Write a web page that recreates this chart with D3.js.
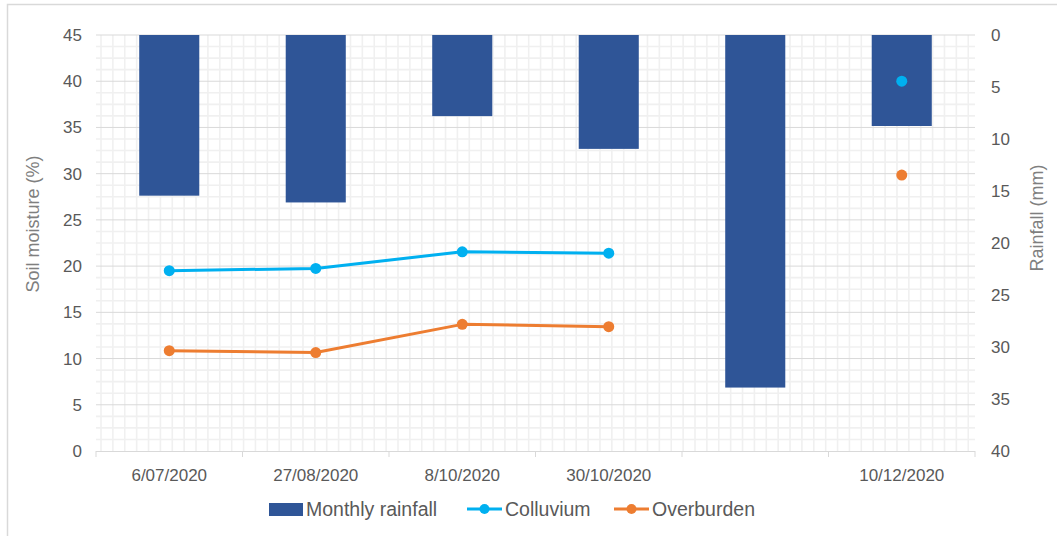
<!DOCTYPE html>
<html>
<head>
<meta charset="utf-8">
<script src="https://cdn.jsdelivr.net/npm/d3@7"></script>
<style>
  body { margin: 0; background: #fff; }
  text { font-family: "Liberation Sans", Arial, sans-serif; fill: #595959; }
</style>
</head>
<body>
<div id="chart"></div>
<script>
// data
const dates = ["6/07/2020", "27/08/2020", "8/10/2020", "30/10/2020", "", "10/12/2020"];
const rainfall = [15.45, 16.1, 7.8, 10.95, 33.9, 8.75];
const colluvium = [19.5, 19.75, 21.55, 21.4, null, 40];
const overburden = [10.85, 10.65, 13.7, 13.45, null, 29.85];
const moistureTicks = [0, 5, 10, 15, 20, 25, 30, 35, 40, 45];
const rainTicks = [0, 5, 10, 15, 20, 25, 30, 35, 40];

// dimensions
const width = 1057, height = 536;
const plotLeft = 96, plotRight = 975, plotTop = 35, plotBottom = 451;

const svg = d3.select("#chart").append("svg")
    .attr("width", width)
    .attr("height", height);

// chart frame
svg.append("rect").attr("x", 7.5).attr("y", 4.5).attr("width", 1060).attr("height", 560)
    .attr("fill", "none").attr("stroke", "#d9d9d9").attr("stroke-width", 1.5);

const x = d3.scaleBand().domain(d3.range(dates.length)).range([plotLeft, plotRight]).paddingInner(0.59).paddingOuter(0.295);
const xOuter = d3.scaleBand().domain(d3.range(dates.length)).range([plotLeft, plotRight]);
const yLeft = d3.scaleLinear().domain([0, 45]).range([plotBottom, plotTop]);
const yRight = d3.scaleLinear().domain([0, 40]).range([plotTop, plotBottom]);

// minor grid (4 steps per major)
const grid = svg.append("g");
grid.selectAll("line.hmin")
    .data(d3.range(0, 45, 1.25).filter(v => v % 5 !== 0))
    .join("line")
    .attr("x1", plotLeft).attr("x2", plotRight)
    .attr("y1", d => yLeft(d)).attr("y2", d => yLeft(d))
    .attr("stroke", "#f0f0f0").attr("stroke-width", 1.6);

const vStep = 11.88;
grid.selectAll("line.vmin")
    .data(d3.range(plotLeft + 5, plotRight, vStep))
    .join("line")
    .attr("x1", d => d).attr("x2", d => d)
    .attr("y1", plotTop).attr("y2", plotBottom)
    .attr("stroke", "#f0f0f0").attr("stroke-width", 1.6);

grid.selectAll("line.hmaj")
    .data(moistureTicks.filter(v => v > 0))
    .join("line")
    .attr("x1", plotLeft).attr("x2", plotRight)
    .attr("y1", d => yLeft(d)).attr("y2", d => yLeft(d))
    .attr("stroke", "#d9d9d9").attr("stroke-width", 1);

// category axis
svg.append("line").attr("x1", plotLeft).attr("x2", plotRight).attr("y1", plotBottom + 0.5).attr("y2", plotBottom + 0.5)
    .attr("stroke", "#d9d9d9").attr("stroke-width", 1);
svg.selectAll("line.tick")
    .data(d3.range(dates.length + 1))
    .join("line")
    .attr("x1", i => plotLeft + i * xOuter.bandwidth()).attr("x2", i => plotLeft + i * xOuter.bandwidth())
    .attr("y1", plotBottom).attr("y2", plotBottom + 6)
    .attr("stroke", "#d9d9d9");

svg.selectAll("text.cat")
    .data(dates)
    .join("text")
    .attr("x", (d, i) => xOuter(i) + xOuter.bandwidth() / 2)
    .attr("y", 481)
    .attr("text-anchor", "middle")
    .attr("font-size", 17)
    .text(d => d);

// left & right tick labels
svg.selectAll("text.yl")
    .data(moistureTicks)
    .join("text")
    .attr("x", 82).attr("y", d => yLeft(d) + 6)
    .attr("text-anchor", "end").attr("font-size", 17)
    .text(d => d);
svg.selectAll("text.yr")
    .data(rainTicks)
    .join("text")
    .attr("x", 991).attr("y", d => yRight(d) + 6)
    .attr("text-anchor", "start").attr("font-size", 17)
    .text(d => d);

// axis titles
svg.append("text").attr("transform", "translate(39,224) rotate(-90)")
    .attr("text-anchor", "middle").attr("font-size", 18).style("fill", "#7f7f7f")
    .text("Soil moisture (%)");
svg.append("text").attr("transform", "translate(1043,218) rotate(-90)")
    .attr("text-anchor", "middle").attr("font-size", 18).style("fill", "#7f7f7f")
    .text("Rainfall (mm)");

// rainfall bars hanging from the top
svg.selectAll("rect.bar")
    .data(rainfall)
    .join("rect")
    .attr("x", (d, i) => x(i))
    .attr("y", yRight(0))
    .attr("width", x.bandwidth())
    .attr("height", d => yRight(d) - yRight(0))
    .attr("fill", "#2f5597");

// soil moisture series
const series = [
    {name: "Colluvium", values: colluvium, color: "#00b0f0"},
    {name: "Overburden", values: overburden, color: "#ed7d31"}
];
const line = d3.line()
    .defined(d => d.v !== null)
    .x(d => xOuter(d.i) + xOuter.bandwidth() / 2)
    .y(d => yLeft(d.v));

series.forEach(s => {
    const pts = s.values.map((v, i) => ({i, v}));
    svg.append("path").datum(pts)
        .attr("d", line)
        .attr("fill", "none").attr("stroke", s.color).attr("stroke-width", 3)
        .attr("stroke-linejoin", "round");
    svg.selectAll(`circle.${s.name}`)
        .data(pts.filter(d => d.v !== null))
        .join("circle")
        .attr("class", s.name)
        .attr("cx", d => xOuter(d.i) + xOuter.bandwidth() / 2)
        .attr("cy", d => yLeft(d.v))
        .attr("r", 5.5)
        .attr("fill", s.color);
});

// legend
const lg = svg.append("g");
lg.append("rect").attr("x", 269).attr("y", 503).attr("width", 34).attr("height", 13).attr("fill", "#2f5597");
lg.append("text").attr("x", 306).attr("y", 516).attr("font-size", 19.5).text("Monthly rainfall");
series.forEach((s, k) => {
    const x0 = k === 0 ? 467 : 614;
    lg.append("line").attr("x1", x0).attr("x2", x0 + 35).attr("y1", 509).attr("y2", 509)
        .attr("stroke", s.color).attr("stroke-width", 3);
    lg.append("circle").attr("cx", x0 + 17.5).attr("cy", 509).attr("r", 5).attr("fill", s.color);
    lg.append("text").attr("x", x0 + 38).attr("y", 516).attr("font-size", 19.5).text(s.name);
});
</script>
</body>
</html>
